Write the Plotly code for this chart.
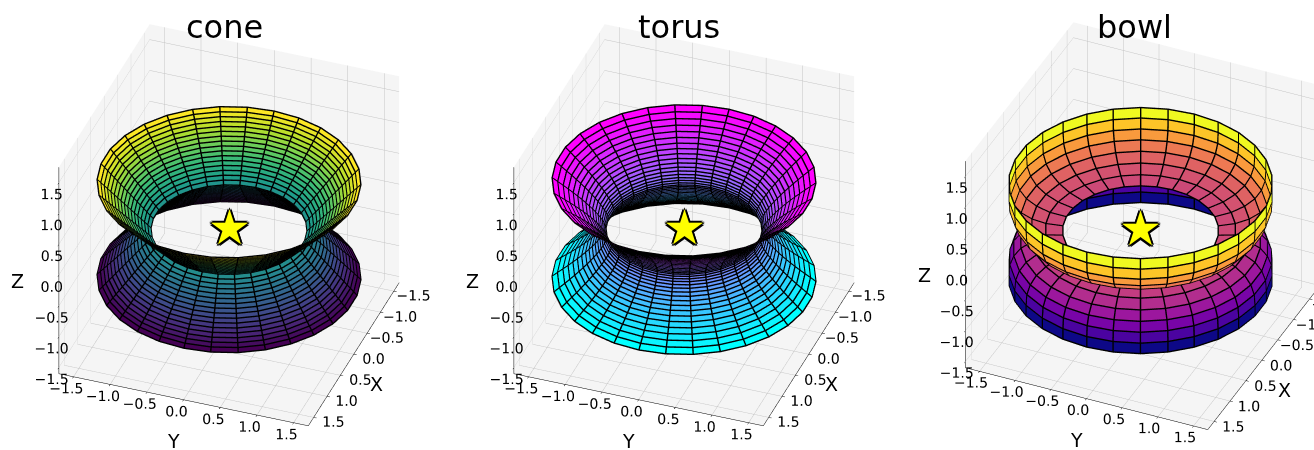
import numpy as np
import plotly.graph_objects as go
from plotly.colors import sample_colorscale

titles = ["cone", "torus", "bowl"]
theta_deg = [0,12,24,36,48,60,72,84,96,108,120,132,144,156,168,180,192,204,216,228,240,252,264,276,288,300,312,324,336,348,360]
tick_vals = [-1.5,-1.0,-0.5,0.0,0.5,1.0,1.5]

cone_r = [1.0,1.043,1.086,1.129,1.172,1.215,1.258,1.301,1.344,1.387,1.43,1.473,1.516,1.559,1.602,1.645,1.69]
cone_z = [0.0,0.048,0.096,0.144,0.192,0.24,0.288,0.336,0.384,0.432,0.48,0.528,0.576,0.624,0.672,0.72,0.77]
torus_r = [1.0,1.006,1.017,1.032,1.052,1.076,1.104,1.137,1.174,1.215,1.26,1.31,1.364,1.422,1.484,1.55,1.62,1.69]
torus_z = [0.0,0.03,0.062,0.096,0.133,0.172,0.214,0.258,0.304,0.352,0.402,0.454,0.508,0.563,0.62,0.678,0.738,0.799]
bowl_r = [1.0,1.22,1.4,1.54,1.63,1.68,1.69,1.69]
bowl_z = [0.0,0.02,0.08,0.17,0.29,0.43,0.6,0.77]

cool = [[0, "rgb(0,255,255)"], [1, "rgb(255,0,255)"]]
panels = [(cone_r, cone_z, "Viridis"), (torus_r, torus_z, cool), (bowl_r, bowl_z, "Plasma")]
domains_px = [(1, 457, 0), (456, 912, 0), (920, 1314, 22)]
W, H = 1314, 450

fig = go.Figure()
anns = []
scenes = {}
th = np.radians(theta_deg)
az, el = np.radians(20), np.radians(35)
EYE = 1.82
XR = [-1.7, 1.7]
ZR = [-1.6, 1.75]
view = np.array([np.cos(el) * np.cos(az), np.cos(el) * np.sin(az), np.sin(el)])
LIFT = 0.009  # grid lines sit a hair toward the camera so they do not z-fight with the faces

def axis(rng):
    return dict(title=dict(text=""),
                range=rng, tickangle=0,
                tickmode="array", tickvals=tick_vals, tickformat=".1f",
                tickfont=dict(size=13, color="black", family="DejaVu Sans"),
                showgrid=True, gridcolor="#c4c4c4", gridwidth=1, zeroline=False,
                showline=True, linecolor="black", linewidth=1, ticks="outside", ticklen=3, tickcolor="black",
                showbackground=True, backgroundcolor="#f5f5f5", showspikes=False)

def label(t, x, y, z, dx, dy):
    return dict(x=x, y=y, z=z, text=t, showarrow=False, xshift=dx, yshift=dy,
                font=dict(size=19, color="black", family="DejaVu Sans"))

for p, (r_half, z_half, cs) in enumerate(panels):
    r = np.array(list(r_half[::-1][:-1]) + list(r_half))
    z = np.array([-v for v in z_half[::-1][:-1]] + list(z_half))
    X = np.outer(r, np.cos(th)); Y = np.outer(r, np.sin(th)); Z = np.outer(z, np.ones_like(th))
    nr, nt = X.shape
    idx = np.arange(nr * nt).reshape(nr, nt)
    i, j, k, fz = [], [], [], []
    for a in range(nr - 1):
        zm = (z[a] + z[a + 1]) / 2
        for b in range(nt - 1):
            i += [idx[a, b], idx[a, b]]
            j += [idx[a + 1, b], idx[a + 1, b + 1]]
            k += [idx[a + 1, b + 1], idx[a, b + 1]]
            fz += [zm, zm]
    fz = np.array(fz)
    zmin, zmax = (z[:-1] + z[1:]).min() / 2, (z[:-1] + z[1:]).max() / 2
    fc = sample_colorscale(cs, list((fz - zmin) / (zmax - zmin)))
    name = "scene" if p == 0 else f"scene{p+1}"
    fig.add_trace(go.Mesh3d(x=X.ravel(), y=Y.ravel(), z=Z.ravel(), i=i, j=j, k=k, facecolor=fc, flatshading=True,
                            lighting=dict(ambient=1, diffuse=0, specular=0, fresnel=0, roughness=1), scene=name, hoverinfo="skip"))
    LX, LY, LZ = X + LIFT * view[0], Y + LIFT * view[1], Z + LIFT * view[2]
    lx, ly, lz = [], [], []
    for a in range(nr):
        lx += list(LX[a]) + [None]; ly += list(LY[a]) + [None]; lz += list(LZ[a]) + [None]
    for b in range(nt - 1):
        lx += list(LX[:, b]) + [None]; ly += list(LY[:, b]) + [None]; lz += list(LZ[:, b]) + [None]
    fig.add_trace(go.Scatter3d(x=lx, y=ly, z=lz, mode="lines", line=dict(color="black", width=2.8), scene=name, hoverinfo="skip", showlegend=False))
    x0, x1, shift = domains_px[p]
    c = (x0 + x1) / 2 + shift
    sh = shift / 209.0
    star = dict(x=0, y=0, z=0, text="★", showarrow=False, yshift=3, font=dict(size=48, color="yellow", family="DejaVu Sans",
                shadow="2px 0 0 #000,-2px 0 0 #000,0 2px 0 #000,0 -2px 0 #000,1.5px 1.5px 0 #000,-1.5px 1.5px 0 #000,1.5px -1.5px 0 #000,-1.5px -1.5px 0 #000"))
    scenes[name] = dict(domain=dict(x=[x0 / W, x1 / W], y=[0, 1]),
                        xaxis=axis(XR), yaxis=axis(XR), zaxis=axis(ZR),
                        aspectmode="manual", aspectratio=dict(x=1.18, y=1.18, z=1.12),
                        camera=dict(projection=dict(type="orthographic"),
                                    eye=dict(x=EYE*np.cos(el)*np.cos(az), y=EYE*np.cos(el)*np.sin(az), z=EYE*np.sin(el)),
                                    center=dict(x=sh*np.sin(az), y=-sh*np.cos(az), z=0), up=dict(x=0, y=0, z=1)),
                        annotations=[star, label("X", 0, 1.69, -1.59, 23, -31), label("Y", 1.69, 0, -1.59, -10, -42), label("Z", 1.69, -1.69, 0, -42, -6)])
    anns.append(dict(text=titles[p], x=(c - 5) / W, y=1 - 27 / H, xref="paper", yref="paper", showarrow=False,
                     xanchor="center", yanchor="middle",
                     font=dict(size=32, color="black", family="DejaVu Sans")))

fig.update_layout(width=W, height=H, margin=dict(l=0, r=0, t=0, b=0), paper_bgcolor="white", showlegend=False,
                  annotations=anns, **scenes)
fig.write_html("out.html", post_script="document.body.style.margin='0';", config=dict(displayModeBar=False))
